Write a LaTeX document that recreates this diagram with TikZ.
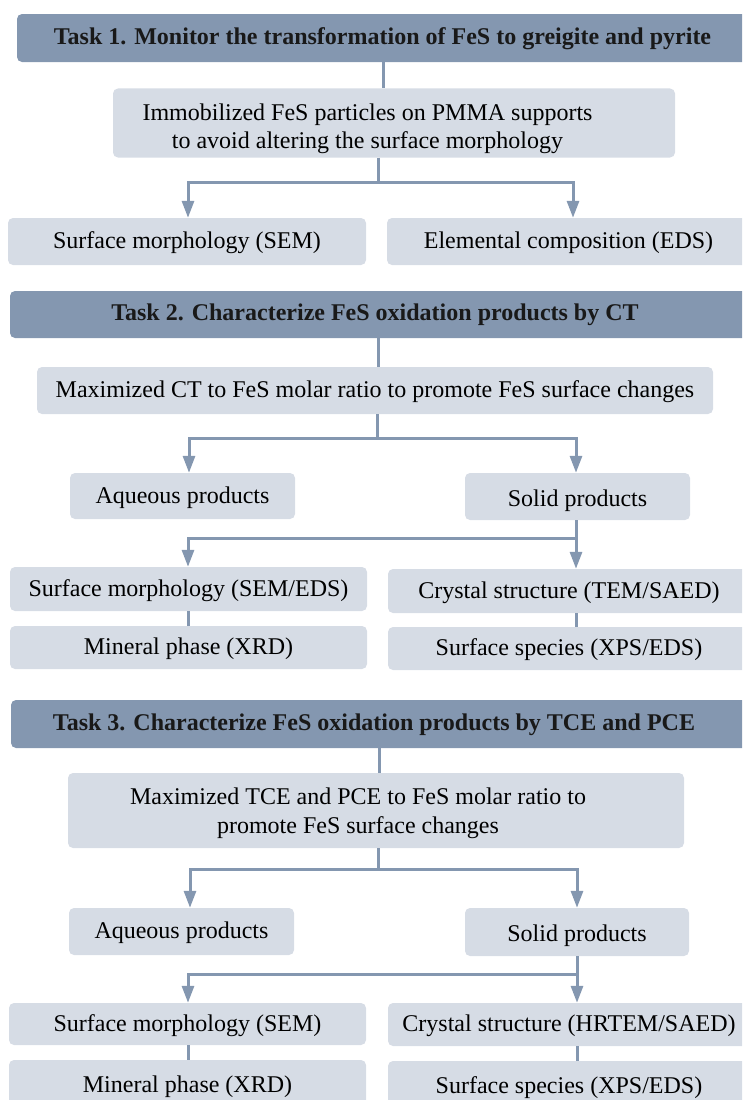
\documentclass[tikz,border=0pt]{standalone}
\usepackage{fontspec}
\setmainfont{Liberation Serif}
\usetikzlibrary{arrows.meta}
\definecolor{hdrblue}{HTML}{8497B0}
\definecolor{boxgray}{HTML}{D6DCE5}
% text block pushed left inside its box
\newcommand{\shifted}[2]{\begin{tabular}{@{}c@{\hspace{#1}}}#2\end{tabular}}
\begin{document}
\begin{tikzpicture}[x=1pt, y=-1pt,
    hdr/.style  = {fill=hdrblue, rounded corners=5pt, inner sep=0pt, text=black!90,
                   text height=19pt, text depth=5pt,
                   font=\fontsize{24}{28.5}\selectfont\bfseries},
    box/.style  = {fill=boxgray, rounded corners=5pt, inner sep=0pt, align=center,
                   font=\fontsize{24}{28.5}\selectfont},
    line1/.style = {text height=19pt, text depth=5pt},
    link/.style = {draw=hdrblue, line width=3pt},
    arr/.style  = {link, -{Triangle[length=17pt, width=12pt]}}]
    \useasboundingbox (0,0) rectangle (742,1100);
    \clip (0,0) rectangle (742,1100);
    % task 1
    \node[hdr, minimum width=743, minimum height=48] (t1) at (388.5,38)
        {\shifted{12pt}{Task 1. Monitor the transformation of FeS to greigite and pyrite}};
    \node[box, minimum width=562, minimum height=68] (imm) at (394,123)
        {\shifted{53pt}{\rule{0pt}{32pt}Immobilized FeS particles on PMMA supports\\to avoid altering the surface morphology}};
    \node[box, line1, minimum width=358, minimum height=47] (sem1) at (187,241.5) {Surface morphology (SEM)};
    \node[box, line1, minimum width=363, minimum height=47] (eds1) at (568.5,241.5) {Elemental composition (EDS)};
    \coordinate (a1) at (383,0);
    \coordinate (s1) at (378,182);
    \coordinate (l1) at (188,182);
    \coordinate (r1) at (573,182);
    \draw[link] (t1.south -| a1) -- (imm.north -| a1);
    \draw[link] (imm.south -| s1) -- (s1);
    \draw[arr]  (s1) -- (l1) -- (sem1.north -| l1);
    \draw[arr]  (s1) -- (r1) -- (eds1.north -| r1);
    % task 2
    \node[hdr, minimum width=750, minimum height=47] (t2) at (385,314.5)
        {\shifted{20pt}{Task 2. Characterize FeS oxidation products by CT}};
    \node[box, line1, minimum width=676, minimum height=47] (ct) at (375,390.5)
        {Maximized CT to FeS molar ratio to promote FeS surface changes};
    \node[box, line1, minimum width=225, minimum height=46] (aq2) at (182.5,496) {Aqueous products};
    \node[box, line1, text height=24pt, minimum width=225, minimum height=47] (sol2) at (577.5,496.5) {Solid products};
    \node[box, line1, minimum width=357, minimum height=44] (sem2) at (188.5,589) {Surface morphology (SEM/EDS)};
    \node[box, line1, minimum width=362, minimum height=44] (cry2) at (569,591) {Crystal structure (TEM/SAED)};
    \node[box, line1, minimum width=357, minimum height=43] (xrd2) at (188.5,647.5) {Mineral phase (XRD)};
    \node[box, line1, minimum width=362, minimum height=43] (spe2) at (569,648.5) {Surface species (XPS/EDS)};
    \coordinate (a2) at (378,0);
    \coordinate (s2) at (377,438);
    \coordinate (l2) at (189,438);
    \coordinate (r2) at (576,438);
    \coordinate (l3) at (188,538);
    \coordinate (r3) at (576,538);
    \draw[link] (t2.south -| a2) -- (ct.north -| a2);
    \draw[link] (ct.south -| s2) -- (s2);
    \draw[arr]  (s2) -- (l2) -- (aq2.north -| l2);
    \draw[arr]  (s2) -- (r2) -- (sol2.north -| r2);
    \draw[link] (sol2.south -| r3) -- (r3);
    \draw[arr]  (r3) -- (cry2.north -| r3);
    \draw[arr]  (r3) -- (l3) -- (sem2.north -| l3);
    \draw[link] (sem2.south -| l3) -- (xrd2.north -| l3);
    \draw[link] (cry2.south -| r3) -- (spe2.north -| r3);
    % task 3
    \node[hdr, minimum width=749, minimum height=48] (t3) at (385.5,724)
        {\shifted{23pt}{Task 3. Characterize FeS oxidation products by TCE and PCE}};
    \node[box, minimum width=616, minimum height=75] (mx3) at (376,810.5)
        {\shifted{36pt}{\rule{0pt}{26pt}Maximized TCE and PCE to FeS molar ratio to\\promote FeS surface changes}};
    \node[box, line1, minimum width=225, minimum height=47] (aq3) at (181.5,931.5) {Aqueous products};
    \node[box, line1, text height=24pt, minimum width=224, minimum height=48] (sol3) at (577,932) {Solid products};
    \node[box, line1, minimum width=357, minimum height=42] (sem3) at (187.5,1024) {Surface morphology (SEM)};
    \node[box, line1, minimum width=362, minimum height=43] (cry3) at (569,1024.5) {Crystal structure (HRTEM/SAED)};
    \node[box, line1, minimum width=357, minimum height=50] (xrd3) at (187.5,1085) {Mineral phase (XRD)};
    \node[box, line1, minimum width=362, minimum height=50] (spe3) at (569,1086) {Surface species (XPS/EDS)};
    \coordinate (a3) at (379,0);
    \coordinate (s4) at (378,869);
    \coordinate (l4) at (190,869);
    \coordinate (r4) at (577,869);
    \coordinate (l5) at (188,974);
    \coordinate (r5) at (577,974);
    \draw[link] (t3.south -| a3) -- (mx3.north -| a3);
    \draw[link] (mx3.south -| s4) -- (s4);
    \draw[arr]  (s4) -- (l4) -- (aq3.north -| l4);
    \draw[arr]  (s4) -- (r4) -- (sol3.north -| r4);
    \draw[link] (sol3.south -| r5) -- (r5);
    \draw[arr]  (r5) -- (cry3.north -| r5);
    \draw[arr]  (r5) -- (l5) -- (sem3.north -| l5);
    \draw[link] (sem3.south -| l5) -- (xrd3.north -| l5);
    \draw[link] (cry3.south -| r5) -- (spe3.north -| r5);
\end{tikzpicture}
\end{document}
